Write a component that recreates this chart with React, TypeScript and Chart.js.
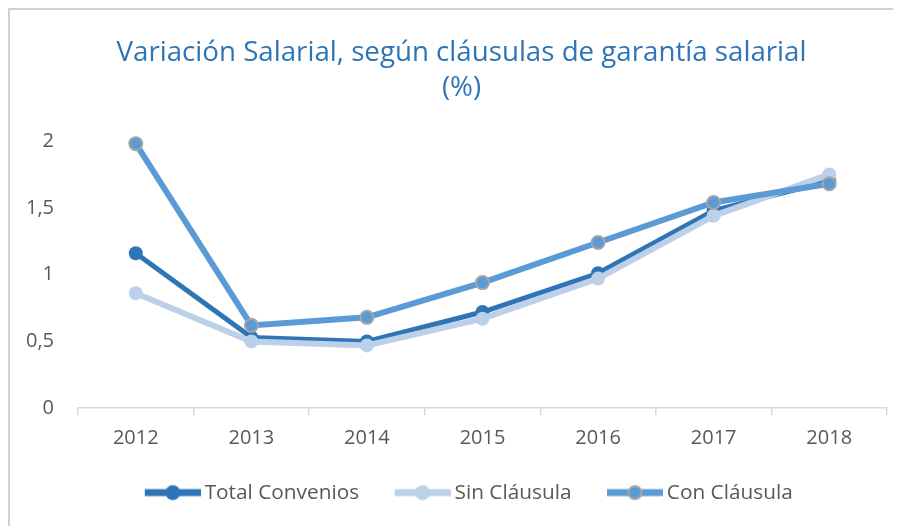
import React, { useEffect, useRef } from "react";
import { Chart, registerables } from "chart.js";

Chart.register(...registerables);

const years = ["2012", "2013", "2014", "2015", "2016", "2017", "2018"];
const totalConvenios = [1.16, 0.53, 0.5, 0.72, 1.01, 1.48, 1.7];
const sinClausula = [0.86, 0.5, 0.47, 0.67, 0.97, 1.44, 1.75];
const conClausula = [1.98, 0.62, 0.68, 0.94, 1.24, 1.54, 1.68];
const seriesNames = ["Total Convenios", "Sin Cláusula", "Con Cláusula"];
const yTicks = [0, 0.5, 1, 1.5, 2];
const titleLines = ["Variación Salarial, según cláusulas de garantía salarial", "(%)"];

const FONT = "'Open Sans', 'DejaVu Sans', sans-serif";
const TEXT = "#595959";
const C_TOTAL = "#2E75B6";
const C_SIN = "#BDD0EA";
const C_CON = "#5B9BD5";
const C_CON_BORDER = "#A5A5A5";

const BOX_W = 64;
function makeSample(color: string, border?: string) {
  const W = BOX_W + 13;
  const H = 18;
  const c = document.createElement("canvas");
  c.width = W;
  c.height = H;
  const ctx = c.getContext("2d")!;
  const x0 = W - 56;
  ctx.strokeStyle = color;
  ctx.lineWidth = 7;
  ctx.beginPath();
  ctx.moveTo(x0, H / 2);
  ctx.lineTo(W, H / 2);
  ctx.stroke();
  ctx.beginPath();
  ctx.arc(x0 + 28, H / 2, border ? 6.5 : 7.5, 0, Math.PI * 2);
  ctx.fillStyle = color;
  ctx.fill();
  if (border) {
    ctx.lineWidth = 2;
    ctx.strokeStyle = border;
    ctx.stroke();
  }
  return c;
}

export default function App() {
  const ref = useRef<HTMLCanvasElement>(null);
  useEffect(() => {
    const colors = [C_TOTAL, C_SIN, C_CON];
    const samples = [makeSample(C_TOTAL), makeSample(C_SIN), makeSample(C_CON, C_CON_BORDER)];
    const chart = new Chart(ref.current!, {
      type: "line",
      data: {
        labels: years,
        datasets: [
          {
            label: seriesNames[0],
            data: totalConvenios,
            borderColor: C_TOTAL,
            backgroundColor: C_TOTAL,
            borderWidth: 5,
            pointRadius: 7,
            pointBorderWidth: 0,
            pointBackgroundColor: C_TOTAL,
            order: 3,
            clip: false,
          },
          {
            label: seriesNames[1],
            data: sinClausula,
            borderColor: C_SIN,
            backgroundColor: C_SIN,
            borderWidth: 6,
            pointRadius: 7,
            pointBorderWidth: 0,
            pointBackgroundColor: C_SIN,
            order: 2,
            clip: false,
          },
          {
            label: seriesNames[2],
            data: conClausula,
            borderColor: C_CON,
            backgroundColor: C_CON,
            borderWidth: 6,
            pointRadius: 6.5,
            pointBorderWidth: 2,
            pointBorderColor: C_CON_BORDER,
            pointBackgroundColor: C_CON,
            order: 1,
            clip: false,
          },
        ],
      },
      options: {
        responsive: false,
        animation: false,
        events: [],
        layout: { padding: { left: 12, right: 0, top: 0, bottom: 13 } },
        font: { family: FONT },
        plugins: {
          tooltip: { enabled: false },
          title: {
            display: true,
            text: titleLines,
            color: C_TOTAL,
            font: { family: FONT, size: 27.7, weight: "normal", lineHeight: 35 / 27.7 },
            padding: { top: 25.5, bottom: 35.5 },
          },
          legend: {
            display: true,
            position: "bottom",
            labels: {
              usePointStyle: true,
              pointStyleWidth: BOX_W,
              padding: 21,
              color: TEXT,
              font: { family: FONT, size: 20.8 },
              generateLabels: () =>
                seriesNames.map((name, i) => ({
                  text: name,
                  pointStyle: samples[i] as any,
                  fillStyle: colors[i],
                  strokeStyle: "transparent",
                  lineWidth: 0,
                  fontColor: TEXT,
                  hidden: false,
                  datasetIndex: i,
                })),
            },
          },
        },
        scales: {
          x: {
            type: "category",
            offset: true,
            grid: {
              display: true,
              offset: true,
              drawOnChartArea: false,
              drawTicks: true,
              tickLength: 7,
              color: "#D9D9D9",
              lineWidth: 1.5,
            },
            border: { display: true, color: "#D9D9D9", width: 1.5 },
            ticks: { color: TEXT, font: { family: FONT, size: 20 }, padding: 11, maxRotation: 0 },
          },
          y: {
            type: "linear",
            position: "left",
            min: 0,
            max: 2,
            afterBuildTicks: (scale: any) => {
              scale.ticks = yTicks.map((v) => ({ value: v }));
            },
            afterFit: (scale: any) => {
              scale.width = 56;
            },
            grid: { display: false, drawTicks: false },
            border: { display: false },
            ticks: {
              color: TEXT,
              font: { family: FONT, size: 20 },
              padding: 24,
              callback: (v: any) => String(v).replace(".", ","),
            },
          },
          y2: {
            type: "linear",
            position: "right",
            min: 0,
            max: 2,
            afterFit: (scale: any) => {
              scale.width = 14;
            },
            grid: { display: false, drawTicks: false },
            border: { display: false },
            ticks: { display: false },
          },
        },
      },
    });
    return () => chart.destroy();
  }, []);
  return (
    <div
      style={{
        width: 891,
        height: 516,
        borderTop: "2px solid #D0D0D0",
        borderLeft: "2px solid #D0D0D0",
        background: "#fff",
      }}
    >
      <canvas ref={ref} width={891} height={516} style={{ display: "block", width: 891, height: 516 }} />
    </div>
  );
}
